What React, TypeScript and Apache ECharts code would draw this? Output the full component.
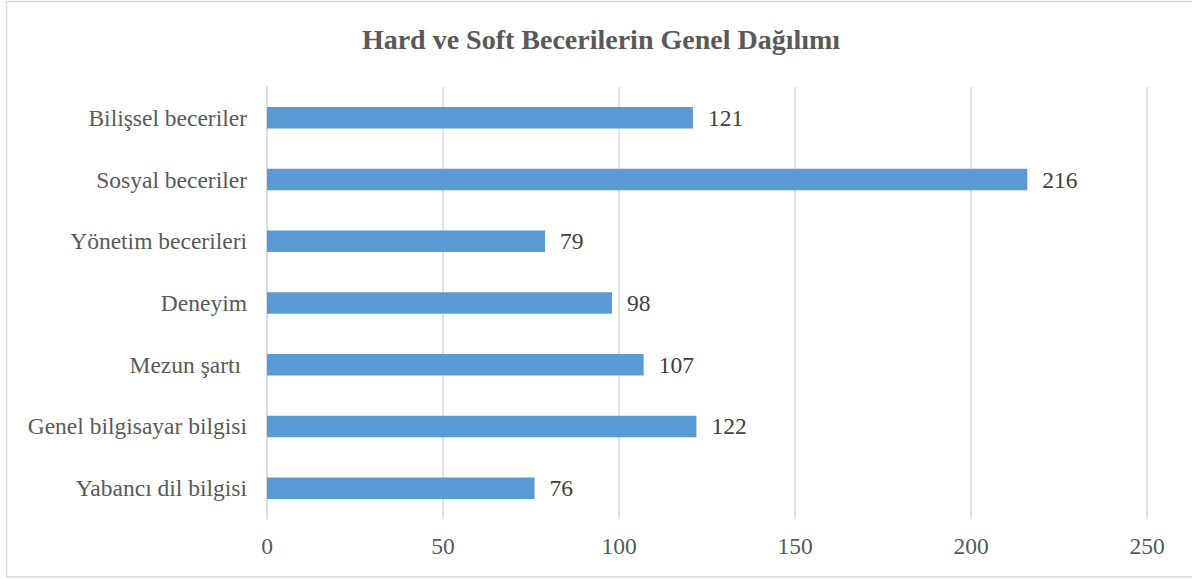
import React, { useEffect, useRef } from "react";
import * as echarts from "echarts";

const titleText = "Hard ve Soft Becerilerin Genel Dağılımı";
const categories = [
  "Bilişsel beceriler",
  "Sosyal beceriler",
  "Yönetim becerileri",
  "Deneyim",
  "Mezun şartı ",
  "Genel bilgisayar bilgisi",
  "Yabancı dil bilgisi",
];
const values = [121, 216, 79, 98, 107, 122, 76];
const xMin = 0;
const xMax = 250;
const xInterval = 50;

const FONT = "'Liberation Serif', 'Times New Roman', serif";

export default function App() {
  const ref = useRef<HTMLDivElement>(null);
  useEffect(() => {
    if (!ref.current) return;
    const chart = echarts.init(ref.current, undefined, { renderer: "svg" });
    const catsRev = [...categories].reverse();
    const valsRev = [...values].reverse();
    chart.setOption({
      animation: false,
      backgroundColor: "#ffffff",
      title: {
        text: titleText,
        left: 596,
        textAlign: "center",
        top: 20,
        textStyle: {
          fontFamily: FONT,
          fontSize: 28,
          fontWeight: "bold",
          color: "#595959",
        },
      },
      graphic: [
        {
          type: "rect",
          shape: { x: 6.5, y: 1.5, width: 1200, height: 575.5 },
          style: { fill: "none", stroke: "#d9d9d9", lineWidth: 1.5 },
          silent: true,
        },
      ],
      grid: { left: 267, right: 45, top: 87, bottom: 60, containLabel: false },
      xAxis: {
        type: "value",
        min: xMin,
        max: xMax,
        interval: xInterval,
        axisLine: { show: false },
        axisTick: { show: false },
        splitLine: { show: true, lineStyle: { color: "#d9d9d9", width: 1.5 } },
        axisLabel: {
          fontFamily: FONT,
          fontSize: 23.5,
          color: "#595959",
          margin: 15,
        },
      },
      yAxis: {
        type: "category",
        data: catsRev,
        axisLine: { show: true, lineStyle: { color: "#d9d9d9", width: 1.5 } },
        axisTick: { show: false },
        axisLabel: {
          fontFamily: FONT,
          fontSize: 23.5,
          color: "#595959",
          margin: 20,
        },
      },
      series: [
        {
          type: "bar",
          data: valsRev,
          barWidth: 21.5,
          itemStyle: { color: "#5b9bd5" },
          label: {
            show: true,
            position: "right",
            distance: 15,
            fontFamily: FONT,
            fontSize: 23.5,
            color: "#404040",
          },
        },
      ],
    });
    return () => chart.dispose();
  }, []);
  return (
    <div
      ref={ref}
      style={{ position: "fixed", left: 0, top: 0, width: 1192, height: 579 }}
    />
  );
}
